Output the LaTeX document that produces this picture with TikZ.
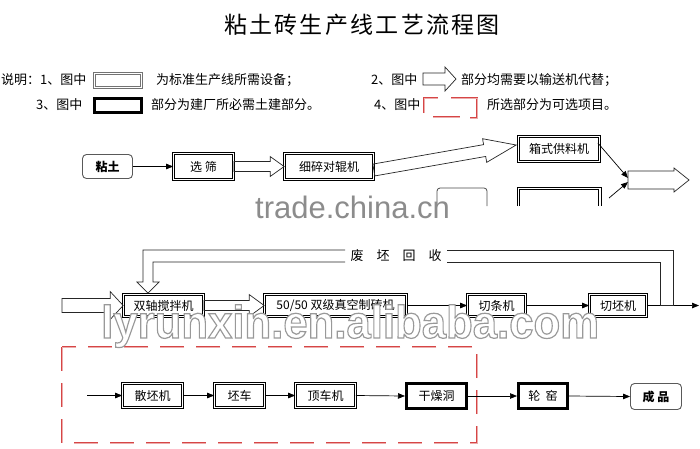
\documentclass[tikz,border=0pt]{standalone}
\usepackage{fontspec}
\usepackage{graphicx}
\setmainfont{Noto Sans CJK SC}
\newfontfamily\titlefont[LetterSpace=10]{Noto Sans CJK SC}
\newfontfamily\wmfont{Liberation Sans}
\usetikzlibrary{arrows.meta,calc}
\definecolor{dashred}{RGB}{214,70,70}
\newcommand{\outlinetext}[1]{\special{pdf:literal direct 2 Tr 1.2 w 1 g}#1\special{pdf:literal direct 0 Tr}}
\newcommand{\hollowarrow}[5]{%
  \coordinate (hah) at ($(#2)!#5!(#1)$);
  \draw[harrow] ($(#1)!#3!90:(#2)$) -- ($(hah)!#3!90:(#2)$) -- ($(hah)!#4!90:(#2)$) -- (#2)
     -- ($(hah)!#4!-90:(#2)$) -- ($(hah)!#3!-90:(#2)$) -- ($(#1)!#3!-90:(#2)$) -- cycle;}
\tikzset{
  boxfont/.style={font=\fontsize{12}{14}\selectfont},
  dbox/.style={draw=black, double=white, double distance=1.5pt, line width=0.7pt, inner sep=0pt, boxfont},
  tbox/.style={draw=black, line width=3pt, inner sep=0pt, boxfont},
  rbox/.style={draw=black!65, rounded corners=4pt, line width=0.9pt, inner sep=0pt, font=\bfseries\fontsize{12}{14}\selectfont},
  arr/.style={line width=0.7pt, -{Triangle[length=7pt,width=5.5pt]}},
  harrow/.style={draw=black!85, line width=0.7pt},
  lgtext/.style={anchor=west, inner sep=0pt, font=\fontsize{13}{15}\selectfont},
  redl/.style={draw=dashred, line width=1.1pt, double=dashred!45, double distance=0.7pt},
}
\begin{document}
\begin{tikzpicture}[x=1pt,y=-1pt]
\fill[white] (0,0) rectangle (700,448);
\useasboundingbox (0,0) rectangle (700,448);

% title
\node[font=\titlefont\fontsize{23}{26}\selectfont, inner sep=0pt] (title) at (362,25) {粘土砖生产线工艺流程图};

% legend
\node[lgtext] (l1a) at (1,80) {说明：1、图中};
\node[dbox, draw=black!55, minimum width=47pt, minimum height=14pt] (l1box) at (118,80.5) {};
\node[lgtext] (l1b) at (156,80) {为标准生产线所需设备；};
\node[lgtext] (l2a) at (371,80) {2、图中};
\coordinate (l2s) at (423,79);
\coordinate (l2e) at (456,79);
\hollowarrow{l2s}{l2e}{6pt}{12pt}{11pt}
\node[lgtext] (l2b) at (461,80) {部分均需要以输送机代替；};
\node[lgtext] (l3a) at (36,105) {3、图中};
\node[tbox, minimum width=47pt, minimum height=14pt] (l3box) at (118,105.5) {};
\node[lgtext] (l3b) at (151,105) {部分为建厂所必需土建部分。};
\node[lgtext] (l4a) at (374,105) {4、图中};
\draw[redl] (424,113) -- (424,98) -- (438,98);
\draw[redl] (451,98) -- (477,98) -- (477,118) -- (470,118);
\draw[redl] (433,117) -- (460,117);
\node[lgtext] (l4b) at (487,105) {所选部分为可选项目。};

% top row
\node[rbox, minimum width=50pt, minimum height=24pt] (niantu) at (107.5,166.5) {粘土};
\node[dbox, minimum width=60pt, minimum height=26pt] (xuanshai) at (203.5,166.5) {选\ 筛};
\node[dbox, minimum width=89pt, minimum height=26pt] (xisui) at (329,166.5) {细碎对辊机};
\node[dbox, minimum width=81pt, minimum height=25pt] (xiangshi) at (559,149) {箱式供料机};
\draw[arr] (niantu.east) -- (xuanshai.west);
\hollowarrow{xuanshai.east}{xisui.west}{5pt}{10pt}{14pt}
\coordinate (d1) at ($(xisui.east)+(0,3.5)$);
\coordinate (d2) at ($(xiangshi.west)+(-2,-4)$);
\hollowarrow{d1}{d2}{6pt}{12pt}{32pt}

% partly hidden boxes
\draw[black!70, rounded corners=3pt, line width=0.8pt] (437,206) -- (437,188) -- (487,188) -- (487,206);
\draw[black, line width=0.7pt] (517,206) -- (517,187) -- (601,187) -- (601,206);
\draw[black, line width=0.7pt] (519.5,206) -- (519.5,189.5) -- (598.5,189.5) -- (598.5,206);

\coordinate (jn) at (628,180);
\coordinate (lowout) at (609,198);
\coordinate (outA) at (689,180);
\draw[arr] ($(xiangshi.east)+(-2,-6)$) -- ($(jn)+(0,-2)$);
\draw[arr] (lowout) -- ($(jn)+(0,2)$);
\hollowarrow{jn}{outA}{9pt}{12pt}{15pt}

% middle row
\node[dbox, minimum width=80pt, minimum height=22pt] (shuangzhou) at (163.5,305.5) {双轴搅拌机};
\node[dbox, minimum width=142pt, minimum height=22pt] (zhuanji) at (335.5,305.5) {50/50 双级真空制砖机};
\node[dbox, minimum width=58pt, minimum height=22pt] (qietiao) at (496.5,305.5) {切条机};
\node[dbox, minimum width=57pt, minimum height=22pt] (qiepi) at (618,305.5) {切坯机};
\coordinate (inB) at (62,305.5);
\hollowarrow{inB}{shuangzhou.west}{7pt}{14pt}{13pt}
\hollowarrow{shuangzhou.east}{zhuanji.west}{5pt}{11pt}{15pt}
\draw[arr] (zhuanji.east) -- (qietiao.west);
\draw[arr] (qietiao.east) -- (qiepi.west);
\coordinate (outB) at (699,305.5);
\draw[arr] (qiepi.east) -- (outB);

% recycling band
\draw[harrow] (345,250) -- (143,250) -- (143,282) -- (137,282) -- (148,293) -- (159,282) -- (153,282) -- (153,262) -- (345,262);
\draw[harrow] (447,250) -- (673,250) -- (673,305.5) -- (660,305.5) -- (660,262) -- (447,262);
\node[font=\fontsize{13}{15}\selectfont, inner sep=0pt] (feipi) at (396,256) {废\quad 坯\quad 回\quad 收};

% optional area
\draw[redl, dash pattern=on 24pt off 12pt] (62,347) rectangle (477,443);

% bottom row
\node[dbox, minimum width=60pt, minimum height=24pt] (sanpi) at (152.5,395.5) {散坯机};
\node[dbox, minimum width=50pt, minimum height=24pt] (piche) at (239.5,395.5) {坯车};
\node[dbox, minimum width=60pt, minimum height=24pt] (dingche) at (325.5,395.5) {顶车机};
\node[tbox, minimum width=60pt, minimum height=25pt] (ganzao) at (436.5,396) {干燥洞};
\node[tbox, minimum width=49pt, minimum height=25pt] (lunyao) at (543,396) {轮\ \ 窑};
\node[rbox, minimum width=51pt, minimum height=26pt] (chengpin) at (656,396.5) {成\ 品};
\coordinate (inC) at (87,395.5);
\draw[arr] (inC) -- (sanpi.west);
\draw[arr] (sanpi.east) -- (piche.west);
\draw[arr] (piche.east) -- (dingche.west);
\draw[arr] (dingche.east) -- (ganzao.west);
\draw[arr] (ganzao.east) -- (lunyao.west);
\draw[arr] (lunyao.east) -- (chengpin.west);

% watermarks
\node[anchor=base west, inner sep=0pt, text=black!45, font=\wmfont\fontsize{31}{31}\selectfont] (wm1) at (255,218) {trade.china.cn};
\node[anchor=base west, inner sep=0pt, text=black!40, font=\wmfont\bfseries\fontsize{46}{46}\selectfont] (wm2) at (101,338) {\scalebox{0.95}[1]{\outlinetext{lyrunxin.en.alibaba.com}}};
\end{tikzpicture}
\end{document}
